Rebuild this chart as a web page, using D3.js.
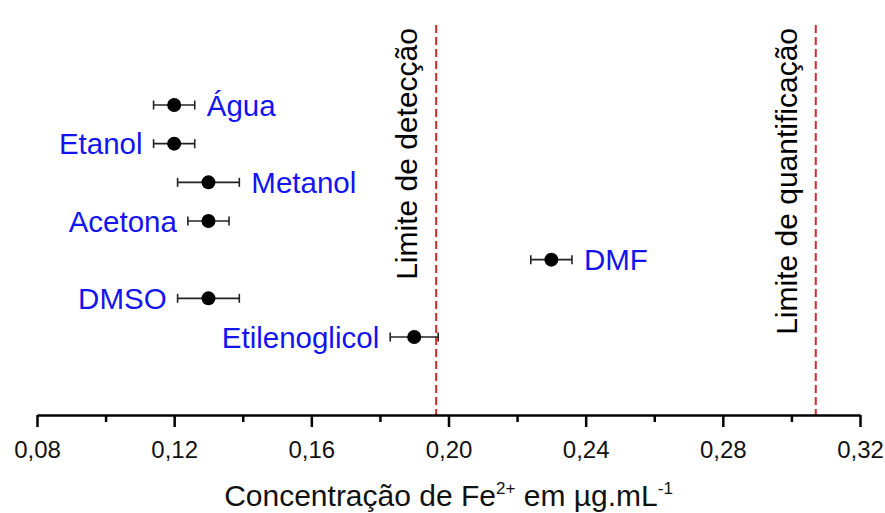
<!DOCTYPE html>
<html>
<head>
<meta charset="utf-8">
<script src="https://cdn.jsdelivr.net/npm/d3@7/dist/d3.min.js"></script>
<style>
  html, body { margin: 0; padding: 0; background: #fff; }
  svg { display: block; font-family: "Liberation Sans", Arial, sans-serif; }
</style>
</head>
<body>
<svg id="chart" width="885" height="513"></svg>
<script>
// Solvents, Fe2+ concentration (µg/mL) and standard deviation
const solvents = ["Água", "Etanol", "Metanol", "Acetona", "DMF", "DMSO", "Etilenoglicol"];
const concentration = [0.120, 0.120, 0.130, 0.130, 0.230, 0.130, 0.190];
const deviation = [0.006, 0.006, 0.009, 0.006, 0.006, 0.009, 0.007];
const labelSide = ["right", "left", "right", "left", "right", "left", "left"];

// Detection and quantification limits
const limitNames = ["Limite de detecção", "Limite de quantificação"];
const limitValues = [0.1964, 0.3071];

// Axis ticks
const majorTicks = [0.08, 0.12, 0.16, 0.20, 0.24, 0.28, 0.32];
const minorTicks = [0.10, 0.14, 0.18, 0.22, 0.26, 0.30];

const svg = d3.select("#chart");
const axisY = 415;

const x = d3.scaleLinear().domain([0.08, 0.32]).range([37, 860]);
const y = d3.scalePoint().domain(solvents).range([105, 337]);

const data = solvents.map((s, i) => ({
  name: s, value: concentration[i], sd: deviation[i], side: labelSide[i]
}));

// Limit lines
const limits = limitNames.map((n, i) => ({ name: n, value: limitValues[i] }));
svg.selectAll("line.limit").data(limits).join("line")
  .attr("class", "limit")
  .attr("x1", d => x(d.value)).attr("x2", d => x(d.value))
  .attr("y1", 25).attr("y2", axisY)
  .attr("stroke", "#d42a2a").attr("stroke-width", 2)
  .attr("stroke-dasharray", "8,4");

svg.selectAll("text.limit").data(limits).join("text")
  .attr("class", "limit")
  .attr("transform", d => `translate(${x(d.value) - 19},28) rotate(-90)`)
  .attr("text-anchor", "end")
  .attr("font-size", 30)
  .attr("fill", "#000")
  .text(d => d.name);

// Bottom axis: major ticks with labels, minor ticks without
const fmt = v => d3.format(".2f")(v).replace(".", ",");
const gMajor = svg.append("g")
  .attr("transform", `translate(0,${axisY})`)
  .call(d3.axisBottom(x).tickValues(majorTicks).tickFormat(fmt).tickSize(12).tickPadding(14).tickSizeOuter(0));
gMajor.select(".domain").attr("stroke", "#000").attr("stroke-width", 2.5);
gMajor.selectAll(".tick line").attr("stroke", "#000").attr("stroke-width", 2.5);
gMajor.selectAll(".tick text")
  .attr("font-size", 24).attr("fill", "#111")
  .attr("font-family", "Liberation Sans, Arial, sans-serif");

const gMinor = svg.append("g")
  .attr("transform", `translate(0,${axisY})`)
  .call(d3.axisBottom(x).tickValues(minorTicks).tickFormat("").tickSize(7).tickSizeOuter(0));
gMinor.select(".domain").remove();
gMinor.selectAll(".tick line").attr("stroke", "#000").attr("stroke-width", 2.5);

// Axis title
const title = svg.append("text")
  .attr("x", (x(0.08) + x(0.32)) / 2)
  .attr("y", 506)
  .attr("text-anchor", "middle")
  .attr("font-size", 30)
  .attr("fill", "#111");
title.append("tspan").text("Concentração de Fe");
title.append("tspan").attr("font-size", 17).attr("dy", -12).text("2+");
title.append("tspan").attr("dy", 12).text(" em ");
title.append("tspan").text("µg.mL");
title.append("tspan").attr("font-size", 17).attr("dy", -12).text("-1");

// Error bars
const eb = svg.append("g").attr("stroke", "#222").attr("stroke-width", 1.6);
data.forEach(d => {
  const cy = y(d.name), x0 = x(d.value - d.sd), x1 = x(d.value + d.sd);
  eb.append("line").attr("x1", x0).attr("x2", x1).attr("y1", cy).attr("y2", cy);
  eb.append("line").attr("x1", x0).attr("x2", x0).attr("y1", cy - 4.5).attr("y2", cy + 4.5);
  eb.append("line").attr("x1", x1).attr("x2", x1).attr("y1", cy - 4.5).attr("y2", cy + 4.5);
});

// Points
svg.selectAll("circle.pt").data(data).join("circle")
  .attr("class", "pt")
  .attr("cx", d => x(d.value)).attr("cy", d => y(d.name))
  .attr("r", 7).attr("fill", "#000");

// Solvent labels
svg.selectAll("text.lbl").data(data).join("text")
  .attr("class", "lbl")
  .attr("x", d => d.side === "right" ? x(d.value + d.sd) + 12 : x(d.value - d.sd) - 11)
  .attr("y", d => y(d.name))
  .attr("dy", "0.36em")
  .attr("text-anchor", d => d.side === "right" ? "start" : "end")
  .attr("font-size", 29.5)
  .attr("fill", "#1414ee")
  .text(d => d.name);
</script>
</body>
</html>
